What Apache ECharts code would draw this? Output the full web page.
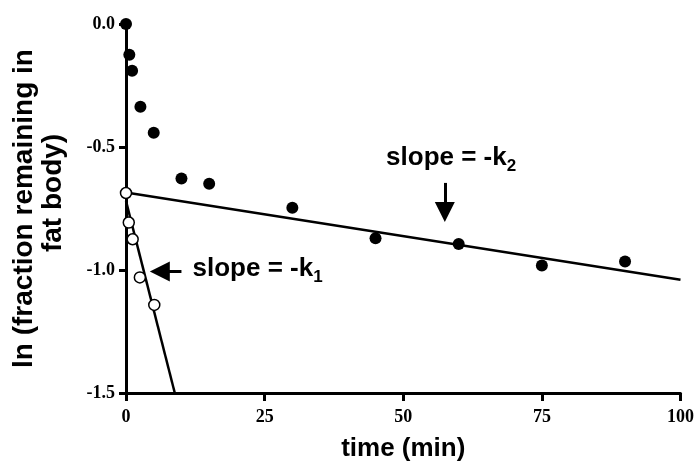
<!DOCTYPE html>
<html>
<head>
<meta charset="utf-8">
<script src="https://cdn.jsdelivr.net/npm/echarts@6/dist/echarts.min.js"></script>
<style>
  html, body { margin: 0; padding: 0; background: #fff; }
  #chart { width: 697px; height: 468px; }
</style>
</head>
<body>
<div id="chart"></div>
<script>
const filledTime = [0, 0.6, 1.1, 2.6, 5, 10, 15, 30, 45, 60, 75, 90];
const filledLn = [0, -0.125, -0.19, -0.336, -0.442, -0.628, -0.649, -0.747, -0.871, -0.894, -0.982, -0.965];
const openTime = [0, 0.5, 1.2, 2.5, 5.1];
const openLn = [-0.687, -0.807, -0.875, -1.03, -1.142];
// fitted lines (end points)
const fastFit = [[0, -0.72], [8.8, -1.5]];
const slowFit = [[0, -0.685], [100, -1.04]];
const xTicks = [0, 25, 50, 75, 100];
const yTicks = [0, -0.5, -1.0, -1.5];

const zip = (a, b) => a.map((v, i) => [v, b[i]]);

const chart = echarts.init(document.getElementById('chart'));

const bold = { fontFamily: 'Liberation Sans', fontWeight: 'bold', color: '#000' };

chart.setOption({
  animation: false,
  grid: { left: 126, right: 14, top: 24, bottom: 75 },
  xAxis: {
    type: 'value',
    min: xTicks[0],
    max: xTicks[xTicks.length - 1],
    interval: 25,
    name: 'time (min)',
    nameLocation: 'middle',
    nameGap: 43,
    nameTextStyle: Object.assign({ fontSize: 26 }, bold),
    splitLine: { show: false },
    axisLine: { onZero: false, lineStyle: { color: '#000', width: 3 } },
    axisTick: { length: 8, lineStyle: { color: '#000', width: 3 } },
    axisLabel: {
      margin: 15,
      fontFamily: 'Liberation Serif',
      fontWeight: 'bold',
      fontSize: 18,
      color: '#000'
    }
  },
  yAxis: {
    type: 'value',
    min: yTicks[yTicks.length - 1],
    max: yTicks[0],
    interval: 0.5,
    name: 'ln (fraction remaining in\n    fat body)',
    nameLocation: 'middle',
    nameGap: 58,
    nameTextStyle: Object.assign({ fontSize: 28, lineHeight: 29 }, bold),
    splitLine: { show: false },
    axisLine: { onZero: false, lineStyle: { color: '#000', width: 3 } },
    axisTick: { length: 7, lineStyle: { color: '#000', width: 3 } },
    axisLabel: {
      margin: 11,
      fontFamily: 'Liberation Serif',
      fontWeight: 'bold',
      fontSize: 18,
      color: '#000',
      formatter: v => v.toFixed(1)
    }
  },
  series: [
    {
      type: 'line',
      data: slowFit,
      showSymbol: false,
      lineStyle: { color: '#000', width: 2.5 },
      z: 2,
      markLine: {
        silent: true,
        symbol: ['none', 'triangle'],
        symbolSize: 20,
        lineStyle: { color: '#000', width: 3, type: 'solid' },
        label: { show: false },
        data: [
          [{ coord: [57.5, -0.646] }, { coord: [57.5, -0.764] }],
          [{ coord: [10.0, -1.006] }, { coord: [6.1, -1.006] }]
        ]
      }
    },
    {
      type: 'line',
      data: fastFit,
      showSymbol: false,
      lineStyle: { color: '#000', width: 2.5 },
      z: 2
    },
    {
      type: 'scatter',
      data: zip(filledTime, filledLn),
      symbol: 'circle',
      symbolSize: 12,
      clip: false,
      itemStyle: { color: '#000', opacity: 1 },
      z: 3
    },
    {
      type: 'scatter',
      data: zip(openTime, openLn),
      symbol: 'circle',
      symbolSize: 11,
      clip: false,
      itemStyle: { color: '#fff', borderColor: '#000', borderWidth: 1.5, opacity: 1 },
      z: 4
    },
    {
      // slope labels
      type: 'scatter',
      data: [
        { value: [46.9, -0.553], k: '2' },
        { value: [12.0, -1.004], k: '1' }
      ],
      symbolSize: 0,
      silent: true,
      z: 5,
      itemStyle: { opacity: 1 },
      label: {
        show: true,
        position: 'right',
        distance: 0,
        color: '#000',
        formatter: p => '{m|slope = -k}{s|' + p.data.k + '}',
        rich: {
          m: Object.assign({ fontSize: 26, lineHeight: 30, verticalAlign: 'top' }, bold),
          s: Object.assign({ fontSize: 17, verticalAlign: 'bottom' }, bold)
        }
      }
    }
  ]
});
</script>
</body>
</html>
